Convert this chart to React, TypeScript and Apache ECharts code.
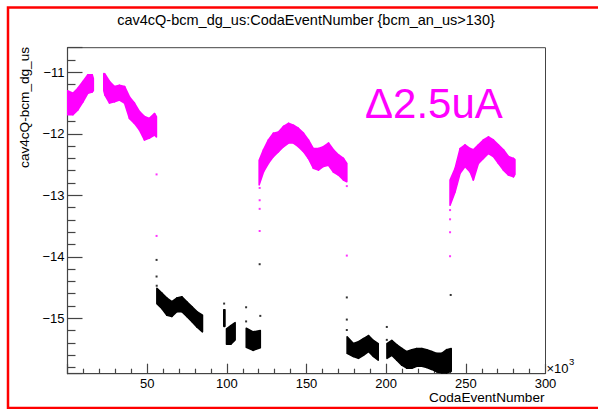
import React, { useEffect, useRef } from 'react';
import * as echarts from 'echarts';

const FONT = '"Liberation Sans", Arial, Helvetica, sans-serif';

const titleText = 'cav4cQ-bcm_dg_us:CodaEventNumber {bcm_an_us>130}';
const xAxisTitle = 'CodaEventNumber';
const yAxisTitle = 'cav4cQ-bcm_dg_us';
const annotation = 'Δ2.5uA';
const xScaleText = '×10';
const xScaleExp = '3';

const xMin = 0;
const xMax = 300;
const xStep = 50;
const yMin = -15.9;
const yMax = -10.6;

// Bands: [CodaEventNumber (x10^3), upper edge, lower edge]
const magentaBand1 = [
  [0, -11.3, -11.69], [3.4, -11.34, -11.69], [6.5, -11.26, -11.61], [9.7, -11.15, -11.48],
  [12.8, -11.04, -11.34], [15.5, -11.04, -11.32], [16.2, -11.1, -11.3],
];
const magentaBand2 = [
  [22.8, -11.02, -11.3], [23.5, -11.03, -11.37], [26.4, -11.15, -11.5], [29.5, -11.23, -11.48],
  [32.6, -11.21, -11.45], [35.8, -11.23, -11.5], [38.9, -11.4, -11.75], [42.0, -11.5, -11.83],
  [45.2, -11.64, -11.94], [48.3, -11.72, -12.1], [51.4, -11.75, -12.07], [54.6, -11.67, -12.02],
  [55.8, -11.72, -12.05],
];
const magentaBand3 = [
  [120.3, -12.43, -12.83], [123.0, -12.26, -12.62], [126.1, -12.1, -12.48], [129.2, -11.99, -12.37],
  [132.4, -11.97, -12.29], [135.5, -11.88, -12.21], [138.7, -11.83, -12.15], [141.8, -11.86, -12.15],
  [144.9, -11.91, -12.21], [148.1, -11.99, -12.29], [151.2, -12.1, -12.4], [154.3, -12.24, -12.56],
  [157.5, -12.24, -12.59], [160.6, -12.21, -12.53], [163.8, -12.15, -12.51], [166.9, -12.26, -12.62],
  [170.0, -12.34, -12.67], [173.2, -12.4, -12.75], [175.3, -12.48, -12.78],
];
const magentaBand4 = [
  [240.1, -12.75, -13.16], [243.3, -12.56, -12.94], [246.4, -12.24, -12.64], [249.5, -12.18, -12.53],
  [252.7, -12.24, -12.62], [254.7, -12.26, -12.75], [257.9, -12.18, -12.48], [261.0, -12.1, -12.4],
  [264.2, -12.05, -12.32], [267.3, -12.1, -12.37], [270.4, -12.18, -12.48], [273.6, -12.26, -12.59],
  [276.7, -12.37, -12.67], [279.9, -12.4, -12.7], [280.8, -12.42, -12.66],
];

const blackBand1 = [
  [56.1, -14.51, -14.76], [59.2, -14.59, -14.84], [62.4, -14.67, -14.95], [65.5, -14.73, -14.97],
  [68.6, -14.67, -14.89], [71.8, -14.65, -14.89], [74.9, -14.73, -14.97], [78.0, -14.81, -15.05],
  [81.2, -14.89, -15.14], [84.7, -14.95, -15.22],
];
const blackBand2 = [[98.1, -14.86, -15.13], [98.8, -14.86, -15.13]];
const blackBand3 = [[99.8, -15.17, -15.42], [102.5, -15.12, -15.42], [105.2, -15.07, -15.35]];
const blackBand4 = [[112.2, -15.16, -15.47], [116.5, -15.22, -15.52], [121.0, -15.2, -15.48]];
const blackBand5 = [
  [175.5, -15.3, -15.57], [179.4, -15.41, -15.62], [182.6, -15.38, -15.65], [185.7, -15.33, -15.6],
  [188.9, -15.28, -15.54], [192.0, -15.36, -15.62], [195.0, -15.41, -15.68],
];
const blackBand6 = [
  [200.5, -15.41, -15.65], [203.5, -15.36, -15.6], [206.7, -15.43, -15.68], [209.8, -15.49, -15.76],
  [212.9, -15.54, -15.81], [216.1, -15.51, -15.81], [219.2, -15.49, -15.78], [222.4, -15.49, -15.78],
  [225.5, -15.51, -15.8], [228.6, -15.54, -15.83], [231.8, -15.57, -15.87], [234.9, -15.57, -15.89],
  [238.0, -15.51, -15.89], [240.8, -15.49, -15.86],
];

// isolated points [x, y]
const magentaStray = [
  [55.9, -12.66], [55.9, -13.66], [120.6, -12.88], [120.6, -13.08], [120.6, -13.22], [120.6, -13.58],
  [175.3, -12.85], [175.3, -13.98], [240.1, -13.24], [240.1, -13.39], [240.1, -13.6], [240.1, -13.99],
];
const blackStray = [
  [55.9, -14.05], [55.9, -14.32], [56.0, -14.47], [120.6, -14.12], [98.3, -14.76], [112.1, -14.82],
  [112.1, -15.05], [121.0, -14.96], [175.3, -14.66], [175.3, -15.02], [175.3, -15.19], [200.4, -15.14],
  [200.4, -15.35], [240.5, -14.62],
];

const magentaBands = [magentaBand1, magentaBand2, magentaBand3, magentaBand4];
const blackBands = [blackBand1, blackBand2, blackBand3, blackBand4, blackBand5, blackBand6];

function toQuads(bands: number[][][]) {
  const out: number[][] = [];
  bands.forEach((b) => {
    for (let i = 0; i < b.length - 1; i++) {
      out.push([b[i][0], b[i][1], b[i][2], b[i + 1][0], b[i + 1][1], b[i + 1][2]]);
    }
  });
  return out;
}

function bandSeries(name: string, bands: number[][][], color: string) {
  return {
    name,
    type: 'custom',
    clip: true,
    data: toQuads(bands),
    renderItem: (_p: any, api: any) => {
      const a = api.coord([api.value(0), api.value(1)]);
      const b = api.coord([api.value(3), api.value(4)]);
      const c = api.coord([api.value(3), api.value(5)]);
      const d = api.coord([api.value(0), api.value(2)]);
      return {
        type: 'polygon',
        shape: { points: [a, b, c, d] },
        style: { fill: color, stroke: color, lineWidth: 1.6, lineJoin: 'round' },
      };
    },
  };
}

const minus = (v: number) => String(v).replace('-', '\u2212');

export default function App() {
  const ref = useRef<HTMLDivElement>(null);
  useEffect(() => {
    if (!ref.current) return;
    const chart = echarts.init(ref.current, null, { renderer: 'svg' });
    chart.setOption({
      animation: false,
      backgroundColor: '#ffffff',
      grid: {
        left: 67.5,
        top: 47.7,
        width: 478,
        height: 326,
        show: true,
        borderColor: '#444',
        borderWidth: 1,
        backgroundColor: 'transparent',
      },
      xAxis: {
        type: 'value',
        min: xMin,
        max: xMax,
        interval: xStep,
        axisLine: { show: true, onZero: false, lineStyle: { color: '#444', width: 1.2 } },
        axisTick: { show: true, inside: true, length: 10, lineStyle: { color: '#444', width: 1.2 } },
        minorTick: { show: true, splitNumber: 5, length: 5, lineStyle: { color: '#444', width: 1.2 } },
        splitLine: { show: false },
        minorSplitLine: { show: false },
        axisLabel: {
          showMinLabel: false,
          fontFamily: FONT,
          fontSize: 13,
          color: '#000',
          margin: 3,
        },
      },
      yAxis: {
        type: 'value',
        min: yMin,
        max: yMax,
        minInterval: 1,
        maxInterval: 1,
        axisLine: { show: true, onZero: false, lineStyle: { color: '#444', width: 1.2 } },
        axisTick: { show: true, inside: true, length: 15, lineStyle: { color: '#444', width: 1.2 } },
        minorTick: { show: true, splitNumber: 5, length: 8, lineStyle: { color: '#444', width: 1.2 } },
        splitLine: { show: false },
        minorSplitLine: { show: false },
        axisLabel: {
          showMinLabel: false,
          showMaxLabel: false,
          fontFamily: FONT,
          fontSize: 13,
          color: '#000',
          margin: 3,
          formatter: minus,
        },
      },
      series: [
        bandSeries('magenta', magentaBands, '#ff00ff'),
        bandSeries('black', blackBands, '#000000'),
        {
          name: 'magentaStray',
          type: 'scatter',
          symbol: 'rect',
          symbolSize: 2,
          itemStyle: { color: '#ff00ff' },
          data: magentaStray,
        },
        {
          name: 'blackStray',
          type: 'scatter',
          symbol: 'rect',
          symbolSize: 2,
          itemStyle: { color: '#000000' },
          data: blackStray,
        },
      ],
      graphic: [
        {
          type: 'rect',
          shape: { x: 8, y: 7.5, width: 600, height: 400.5 },
          style: { fill: 'none', stroke: '#ff0000', lineWidth: 2.5 },
          silent: true,
        },
        {
          type: 'text',
          x: 306,
          y: 20,
          style: {
            text: titleText,
            font: `14.5px ${FONT}`,
            fill: '#000',
            align: 'center',
            verticalAlign: 'middle',
          },
        },
        {
          type: 'text',
          x: 24,
          y: 47,
          rotation: Math.PI / 2,
          style: {
            text: yAxisTitle,
            font: `13.6px ${FONT}`,
            fill: '#000',
            align: 'right',
            verticalAlign: 'middle',
          },
        },
        {
          type: 'text',
          x: 544.5,
          y: 397.5,
          style: {
            text: xAxisTitle,
            font: `13.6px ${FONT}`,
            fill: '#000',
            align: 'right',
            verticalAlign: 'middle',
          },
        },
        {
          type: 'text',
          x: 546.5,
          y: 368.5,
          style: {
            text: xScaleText,
            font: `13px ${FONT}`,
            fill: '#000',
            align: 'left',
            verticalAlign: 'middle',
          },
        },
        {
          type: 'text',
          x: 569,
          y: 361.5,
          style: {
            text: xScaleExp,
            font: `9.5px ${FONT}`,
            fill: '#000',
            align: 'left',
            verticalAlign: 'middle',
          },
        },
        {
          type: 'text',
          x: 365,
          y: 103.5,
          style: {
            text: annotation,
            font: `42px ${FONT}`,
            fill: '#ff00ff',
            align: 'left',
            verticalAlign: 'middle',
          },
        },
      ],
    });
    return () => chart.dispose();
  }, []);
  return (
    <div
      ref={ref}
      style={{ position: 'fixed', left: 0, top: 0, width: 598, height: 409, background: '#fff' }}
    />
  );
}
